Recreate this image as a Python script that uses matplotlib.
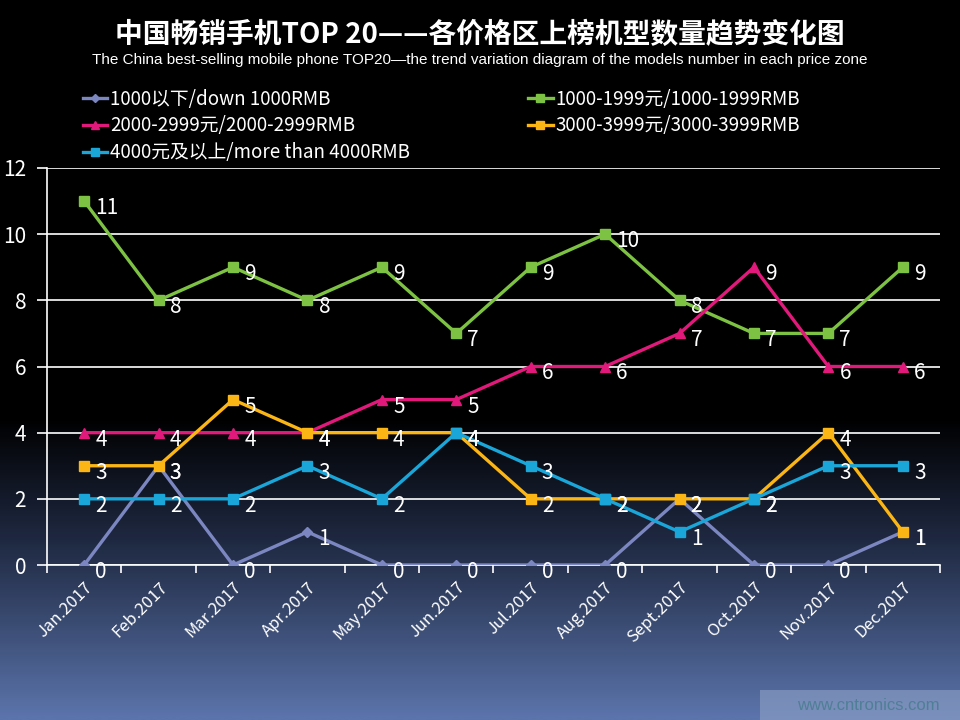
import numpy as np
import matplotlib
matplotlib.use("Agg")
import matplotlib.pyplot as plt
from matplotlib.colors import LinearSegmentedColormap

plt.rcParams['font.family'] = ['Noto Sans CJK SC', 'DejaVu Sans']

months = ['Jan.2017', 'Feb.2017', 'Mar.2017', 'Apr.2017', 'May.2017', 'Jun.2017',
          'Jul.2017', 'Aug.2017', 'Sept.2017', 'Oct.2017', 'Nov.2017', 'Dec.2017']

names = ['1000以下/down 1000RMB', '1000-1999元/1000-1999RMB', '2000-2999元/2000-2999RMB',
         '3000-3999元/3000-3999RMB', '4000元及以上/more than 4000RMB']

below_1000 = [0, 3, 0, 1, 0, 0, 0, 0, 2, 0, 0, 1]
p1000_1999 = [11, 8, 9, 8, 9, 7, 9, 10, 8, 7, 7, 9]
p2000_2999 = [4, 4, 4, 4, 5, 5, 6, 6, 7, 9, 6, 6]
p3000_3999 = [3, 3, 5, 4, 4, 4, 2, 2, 2, 2, 4, 1]
above_4000 = [2, 2, 2, 3, 2, 4, 3, 2, 1, 2, 3, 3]

series = [below_1000, p1000_1999, p2000_2999, p3000_3999, above_4000]
colors = ['#7c87c2', '#7dc242', '#e0197b', '#fbb515', '#1aa6d8']
markers = ['D', 's', '^', 's', 's']
msizes = [5, 7, 6.5, 7, 7]

fig = plt.figure(figsize=(9.6, 7.2), dpi=100)

# background gradient: black at top, blue-grey at bottom
bg = fig.add_axes([0, 0, 1, 1], zorder=-10)
cmap = LinearSegmentedColormap.from_list('bg', [(0, '#000000'), (0.58, '#000000'),
                                                (0.75, '#1e2840'), (1.0, '#5b74ab')])
grad = np.linspace(0, 1, 300).reshape(-1, 1)
bg.imshow(grad, aspect='auto', cmap=cmap, extent=[0, 1, 0, 1], origin='upper')
bg.axis('off')

ax = fig.add_axes([47 / 960, 1 - 565 / 720, (940 - 47) / 960, (565 - 168) / 720])
ax.patch.set_alpha(0)

x = np.arange(len(months))
handles = []
for vals, name, c, m, ms in zip(series, names, colors, markers, msizes):
    h, = ax.plot(x, vals, color=c, lw=2.4, marker=m, markersize=ms, label=name, zorder=3)
    handles.append(h)
    for xi, v in zip(x, vals):
        ax.annotate(str(v), (xi, v), xytext=(8, -5), textcoords='offset points',
                    ha='left', va='center', color='white', fontsize=15, zorder=4)

ax.set_xlim(-0.5, 11.5)
ax.set_ylim(0, 12)
ax.set_yticks(range(0, 13, 2))
ax.yaxis.grid(True, color='white', lw=1.2)
ax.set_axisbelow(True)
ax.set_xticks(x)
ax.set_xticklabels(months, rotation=45, ha='right', rotation_mode='anchor')
ax.set_xticks(np.arange(-0.5, 12, 1), minor=True)
ax.tick_params(axis='x', which='major', length=0, pad=10, colors='white', labelsize=12)
ax.tick_params(axis='x', which='minor', length=6, color='white', direction='out', width=1.2)
ax.tick_params(axis='y', length=7, color='white', width=1.2, colors='white', labelsize=15, pad=8)
for s in ['top', 'right']:
    ax.spines[s].set_visible(False)
ax.spines['left'].set_color('white')
ax.spines['bottom'].set_color('white')
ax.spines['left'].set_linewidth(1.2)
ax.spines['bottom'].set_linewidth(1.2)

fig.text(0.5, 1 - 35 / 720, '中国畅销手机TOP 20——各价格区上榜机型数量趋势变化图', ha='center', va='center',
         color='white', fontsize=20, fontweight='bold')
fig.text(0.5, 1 - 60 / 720, 'The China best-selling mobile phone TOP20—the trend variation diagram of the models number in each price zone',
         ha='center', va='center', color='white', fontsize=11, family=['Liberation Sans Narrow', 'Liberation Sans'])

order = [0, 2, 4, 1, 3]
leg = fig.legend([handles[i] for i in order], [names[i] for i in order], ncol=2,
                 loc='upper left', bbox_to_anchor=(66 / 960, 1 - 72 / 720), frameon=False,
                 fontsize=13.5, handlelength=1.3, handletextpad=0.15, columnspacing=6.3,
                 labelspacing=0.3, labelcolor='white', markerscale=0.8)

# watermark
fig.patches.append(plt.Rectangle((760 / 960, 0), 200 / 960, 30 / 720, transform=fig.transFigure,
                                 facecolor='#8fa2c8', alpha=0.6, edgecolor='none'))
fig.text(940 / 960, 15 / 720, 'www.cntronics.com', ha='right', va='center', color='#4f7f96',
         fontsize=12, family=['Liberation Sans', 'DejaVu Sans'])

fig.savefig('out.png', dpi=100)
